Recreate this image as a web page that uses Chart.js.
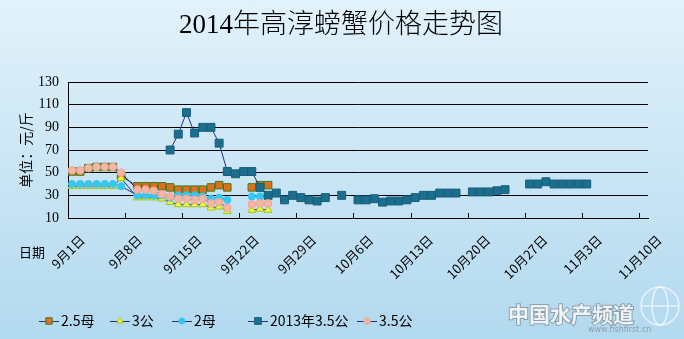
<!DOCTYPE html>
<html lang="zh">
<head>
<meta charset="utf-8">
<title>2014年高淳螃蟹价格走势图</title>
<script src="https://cdn.jsdelivr.net/npm/chart.js"></script>
<style>
  html, body { margin: 0; padding: 0; }
  body { width: 684px; height: 339px; overflow: hidden; }
  .wrap { width: 684px; height: 339px; background: linear-gradient(#e2f2fb, #b2d9ef); }
</style>
</head>
<body>
<div class="wrap"><canvas id="chart" width="684" height="339"></canvas></div>
<script>
// 2014 prices (yuan / jin); 9/8 has no row, 9/21-9/22 are blank
const dates2014 = ['9/1', '9/2', '9/3', '9/4', '9/5', '9/6', '9/7', '9/9', '9/10', '9/11', '9/12', '9/13',
  '9/14', '9/15', '9/16', '9/17', '9/18', '9/19', '9/20', '9/21', '9/22', '9/23', '9/24', '9/25'];
const mu25 = [51, 51, 54, 55, 55, 55, 47, 38, 38, 38, 38, 37, 35, 35, 35, 35, 37, 39, 37, null, null, 37, 39, 39];
const gong3 = [38, 38, 38, 38, 38, 38, 45, 28, 28, 28, 27, 24, 22, 22, 22, 22, 19, 20, 16, null, null, 17, 18, 17];
const mu2 = [40, 40, 40, 40, 40, 40, 38, 30, 30, 30, 30, 28, 30, 30, 30, 29, 27, 28, 26, null, null, 29, 29, 29];
const gong35 = [52, 52, 54, 55, 55, 55, 50, 35, 35, 34, 31, 29, 27, 27, 26, 27, 23, 24, 19, null, null, 22, 23, 23];

// 2013 3.5公 prices
const dates2013 = ['9/13', '9/14', '9/15', '9/16', '9/17', '9/18', '9/19', '9/20', '9/21', '9/22', '9/23',
  '9/24', '9/25', '9/26', '9/27', '9/28', '9/29', '9/30', '10/1', '10/2', '10/3', '10/4', '10/5', '10/6',
  '10/7', '10/8', '10/9', '10/10', '10/11', '10/12', '10/13', '10/14', '10/15', '10/16', '10/17', '10/18',
  '10/19', '10/20', '10/21', '10/22', '10/23', '10/24', '10/25', '10/26', '10/27', '10/28', '10/29',
  '10/30', '10/31', '11/1', '11/2', '11/3'];
const gong35Last = [70, 84, 103, 85, 90, 90, 76, 51, 49, 51, 51, 37, 30, 32, 26, 30, 28, 26, 25, 28, null, 30,
  null, 26, 26, 27, 24, 25, 25, 26, 28, 30, 30, 32, 32, 32, null, 33, 33, 33, 34, 35, null, null, 40, 40, 42,
  40, 40, 40, 40, 40];

const seriesNames = ['2.5母', '3公', '2母', '2013年3.5公', '3.5公'];
const tickLabels = ['9月1日', '9月8日', '9月15日', '9月22日', '9月29日', '10月6日', '10月13日',
  '10月20日', '10月27日', '11月3日', '11月10日'];
const yTicks = [10, 30, 50, 70, 90, 110, 130];

const cjk = '"Noto Sans CJK SC", sans-serif';
const serif = '"Liberation Serif", "Noto Sans CJK SC", serif';
const lineColor = '#2a2f78';

// days since 9/1
function dayOf(month, day) {
  return (Date.UTC(2014, month - 1, day) - Date.UTC(2014, 8, 1)) / 86400000;
}
function dayFromSlash(s) {
  const [m, d] = s.split('/').map(Number);
  return dayOf(m, d);
}
function dayFromLabel(s) {
  const m = s.match(/(\d+)月(\d+)日/);
  return dayOf(+m[1], +m[2]);
}

// each price sits in the middle of its day slot
function points(dates, values) {
  return dates.map((d, i) => ({ x: dayFromSlash(d) + 0.5, y: values[i] }));
}

const datasets = [
  { label: seriesNames[0], data: points(dates2014, mu25), order: 5,
    pointStyle: 'rect', pointRadius: 5.3, pointBackgroundColor: '#df6f1d', pointBorderColor: '#3f7a1c' },
  { label: seriesNames[1], data: points(dates2014, gong3), order: 4,
    pointStyle: 'triangle', pointRadius: 4.6, pointBackgroundColor: '#f6f63a', pointBorderColor: '#9cc628' },
  { label: seriesNames[2], data: points(dates2014, mu2), order: 3,
    pointStyle: 'circle', pointRadius: 3.6, pointBackgroundColor: '#36c6f2', pointBorderColor: '#36c6f2' },
  { label: seriesNames[3], data: points(dates2013, gong35Last), order: 2,
    pointStyle: 'rect', pointRadius: 5.6, pointBackgroundColor: '#1b6e8e', pointBorderColor: '#175e7a' },
  { label: seriesNames[4], data: points(dates2014, gong35), order: 1,
    pointStyle: 'circle', pointRadius: 3.8, pointBackgroundColor: '#f5b5a3', pointBorderColor: '#eda595' },
].map(ds => Object.assign({
  borderColor: lineColor,
  borderWidth: 1,
  pointBorderWidth: 1,
  spanGaps: false,
  fill: false,
}, ds));

const legendX = [39, 110, 172, 248, 357];

const extras = {
  id: 'extras',
  afterDraw(chart) {
    const { ctx } = chart;
    const x = chart.scales.x;
    ctx.save();

    // heading
    ctx.fillStyle = '#000';
    ctx.textAlign = 'center';
    ctx.textBaseline = 'middle';
    ctx.font = '300 27px ' + serif;
    ctx.fillText('2014年高淳螃蟹价格走势图', 341, 26);

    // rotated date labels, each box centred under its tick
    ctx.font = '13px ' + cjk;
    x.ticks.forEach((t, i) => {
      const label = tickLabels[i];
      const side = (ctx.measureText(label).width + 13) * Math.SQRT1_2;
      ctx.save();
      ctx.translate(x.getPixelForValue(t.value), x.top + 15 + side / 2);
      ctx.rotate(-Math.PI / 4);
      ctx.fillText(label, 0, 0);
      ctx.restore();
    });
    ctx.textAlign = 'left';
    ctx.fillText('日期', 19, 252);

    // legend row: line + marker + name
    const y = 321;
    chart.data.datasets.forEach((ds, i) => {
      const lx = legendX[i];
      ctx.strokeStyle = ds.borderColor;
      ctx.lineWidth = 1;
      ctx.beginPath();
      ctx.moveTo(lx, y + 0.5);
      ctx.lineTo(lx + 20, y + 0.5);
      ctx.stroke();
      ctx.fillStyle = ds.pointBackgroundColor;
      ctx.strokeStyle = ds.pointBorderColor;
      Chart.helpers.drawPoint(ctx, {
        pointStyle: ds.pointStyle, radius: ds.pointRadius * 0.85, rotation: 0, borderWidth: 1
      }, lx + 10, y);
      ctx.fillStyle = '#000';
      ctx.font = '14px ' + cjk;
      ctx.textBaseline = 'middle';
      ctx.fillText(ds.label, lx + 22, y);
    });

    // site mark, lower right
    ctx.globalAlpha = 0.85;
    ctx.strokeStyle = 'rgba(255,255,255,0.8)';
    ctx.lineWidth = 1.5;
    ctx.beginPath();
    ctx.arc(660, 306, 19, 0, Math.PI * 2);
    ctx.stroke();
    ctx.beginPath();
    ctx.ellipse(660, 306, 8, 19, 0, 0, Math.PI * 2);
    ctx.moveTo(641, 306);
    ctx.lineTo(679, 306);
    ctx.stroke();
    ctx.font = 'bold 21px ' + cjk;
    ctx.lineWidth = 2;
    ctx.strokeStyle = 'rgba(110,120,130,0.7)';
    ctx.strokeText('中国水产频道', 508, 314);
    ctx.fillStyle = '#ffffff';
    ctx.fillText('中国水产频道', 508, 314);
    ctx.font = '8px "DejaVu Sans", sans-serif';
    ctx.fillStyle = 'rgba(120,130,140,0.8)';
    ctx.fillText('www.fishfirst.cn', 588, 330);
    ctx.restore();
  }
};

new Chart(document.getElementById('chart'), {
  type: 'line',
  data: { datasets },
  options: {
    responsive: false,
    animation: false,
    events: [],
    layout: { padding: { left: 0, right: 36, top: 82, bottom: 0 } },
    plugins: {
      legend: { display: false },
      tooltip: { enabled: false },
      title: { display: false }
    },
    scales: {
      x: {
        type: 'linear',
        min: 0,
        max: 71,
        afterBuildTicks: s => { s.ticks = tickLabels.map(t => ({ value: dayFromLabel(t) })); },
        afterFit: s => { s.height = 121; },
        grid: { drawOnChartArea: false, drawTicks: true, tickLength: -5, color: '#000' },
        border: { color: '#000', width: 1 },
        ticks: { display: false }
      },
      y: {
        min: 10,
        max: 130,
        afterBuildTicks: s => { s.ticks = yTicks.map(v => ({ value: v })); },
        afterFit: s => { s.width = 68; },
        grid: { color: '#000', drawTicks: false },
        border: { color: '#000', width: 1 },
        ticks: { padding: 9, color: '#000', font: { family: serif, size: 14 } },
        title: {
          display: true,
          text: '单位：元/斤',
          color: '#000',
          font: { family: cjk, size: 14 },
          padding: { top: 17, bottom: 0 }
        }
      }
    }
  },
  plugins: [extras]
});
</script>
</body>
</html>
